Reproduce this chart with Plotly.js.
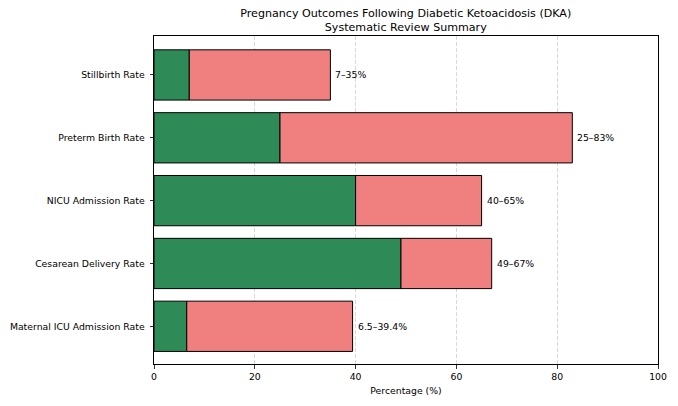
<!DOCTYPE html>
<html>
<head>
<meta charset="utf-8">
<script src="https://cdn.plot.ly/plotly-3.0.1.min.js"></script>
<style>html,body{margin:0;padding:0;background:#fff;}#chart{width:678px;height:406px;}</style>
</head>
<body>
<div id="chart"></div>
<script>
const categories = ["Maternal ICU Admission Rate", "Cesarean Delivery Rate", "NICU Admission Rate", "Preterm Birth Rate", "Stillbirth Rate"];
const lowValues = [6.5, 49, 40, 25, 7];
const highValues = [39.4, 67, 65, 83, 35];
const rangeLabels = ["6.5–39.4%", "49–67%", "40–65%", "25–83%", "7–35%"];

const font = "DejaVu Sans, Liberation Sans, sans-serif";
const spans = highValues.map((h, i) => h - lowValues[i]);

const traces = [
  {
    type: "bar", orientation: "h", y: categories, x: lowValues,
    marker: {color: "#2e8b57", line: {color: "#000", width: 1}},
    width: 0.8, hoverinfo: "skip", showlegend: false
  },
  {
    type: "bar", orientation: "h", y: categories, x: spans, base: lowValues,
    marker: {color: "#f08080", line: {color: "#000", width: 1}},
    width: 0.8, hoverinfo: "skip", showlegend: false
  }
];

const annotations = categories.map((c, i) => ({
  x: highValues[i], y: c, xref: "x", yref: "y", text: rangeLabels[i],
  showarrow: false, xanchor: "left", xshift: 3, yanchor: "middle",
  font: {family: font, size: 9.3, color: "#000"}
}));

const layout = {
  width: 678, height: 406,
  margin: {l: 154, r: 20, t: 36, b: 42, pad: 0},
  paper_bgcolor: "#fff", plot_bgcolor: "#fff",
  barmode: "overlay",
  font: {family: font, size: 9.3, color: "#000"},
  title: {
    text: "Pregnancy Outcomes Following Diabetic Ketoacidosis (DKA)<br>Systematic Review Summary",
    font: {family: font, size: 11.1, color: "#000"},
    x: 0.5985, xanchor: "center", y: 0.959, yanchor: "top"
  },
  xaxis: {
    range: [0, 100], tickvals: [0, 20, 40, 60, 80, 100],
    showgrid: true, gridcolor: "#c8c8c8", griddash: "4px,2px", gridwidth: 0.7,
    showline: true, linecolor: "#000", linewidth: 1, mirror: true,
    ticks: "outside", ticklen: 3.5, tickcolor: "#000", tickwidth: 0.8,
    zeroline: false, layer: "above traces",
    tickfont: {family: font, size: 9.3, color: "#000"},
    title: {text: "Percentage (%)", font: {family: font, size: 9.3, color: "#000"}, standoff: 6}
  },
  yaxis: {
    range: [-0.6, 4.62], type: "category",
    showgrid: false, showline: true, linecolor: "#000", linewidth: 1, mirror: true,
    ticks: "outside", ticklen: 3.5, tickcolor: "#000", tickwidth: 0.8,
    zeroline: false, ticklabelstandoff: 3,
    tickfont: {family: font, size: 9.3, color: "#000"}
  },
  annotations: annotations
};

Plotly.newPlot("chart", traces, layout, {staticPlot: true, displayModeBar: false});
</script>
</body>
</html>
